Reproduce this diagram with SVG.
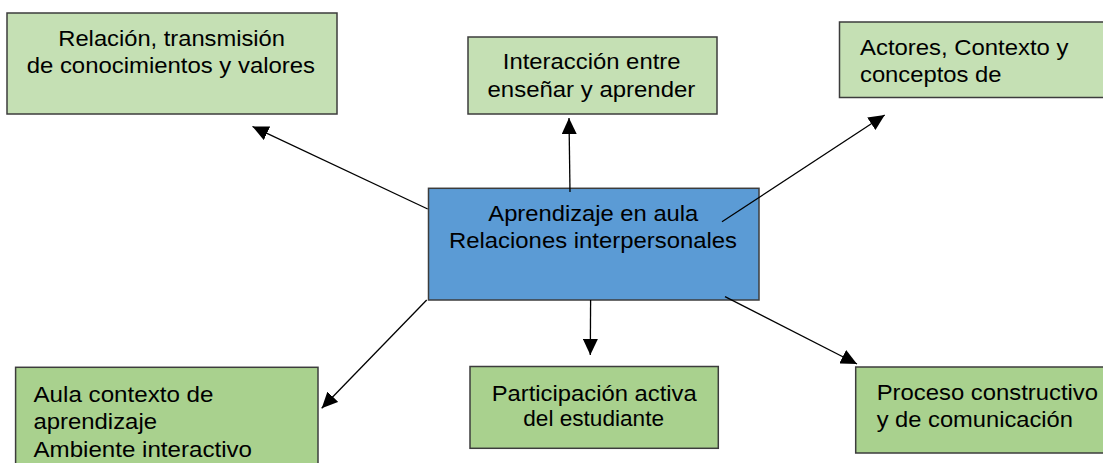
<svg xmlns="http://www.w3.org/2000/svg" width="1103" height="463" viewBox="0 0 1103 463">
<style>
.box{stroke:#3c3c3c;stroke-width:1.5}
.lt{fill:#c5e0b4}
.dk{fill:#a9d18e}
.ct{fill:#5b9bd5}
text{font-family:"Liberation Sans",Arial,sans-serif;font-size:22px;fill:#000}
.con line{stroke:#000;stroke-width:1.3;marker-end:url(#arr)}
</style>
<defs>
<marker id="arr" markerUnits="userSpaceOnUse" markerWidth="17" markerHeight="15" refX="16" refY="7.5" orient="auto">
<path d="M0,0 L16,7.5 L0,15 z" fill="#000"/>
</marker>
</defs>
<rect width="1103" height="463" fill="#fff"/>
<g id="n-relacion">
<rect class="box lt" x="7" y="13" width="330" height="101"/>
<text x="58.3" y="46" textLength="226.7" lengthAdjust="spacingAndGlyphs">Relación, transmisión</text>
<text x="26.7" y="73" textLength="288.3" lengthAdjust="spacingAndGlyphs">de conocimientos y valores</text>
</g>
<g id="n-interaccion">
<rect class="box lt" x="468" y="37" width="249" height="77"/>
<text x="502.8" y="69.3" textLength="177.7" lengthAdjust="spacingAndGlyphs">Interacción entre</text>
<text x="487.5" y="96.7" textLength="207.8" lengthAdjust="spacingAndGlyphs">enseñar y aprender</text>
</g>
<g id="n-actores">
<rect class="box lt" x="839.5" y="22" width="280" height="75.5"/>
<text x="860" y="55" textLength="208.5" lengthAdjust="spacingAndGlyphs">Actores, Contexto y</text>
<text x="860" y="81.5" textLength="141.5" lengthAdjust="spacingAndGlyphs">conceptos de</text>
</g>
<g id="n-central">
<rect class="box ct" x="428.5" y="188.3" width="330.5" height="111.7"/>
<text x="488.3" y="220.7" textLength="210" lengthAdjust="spacingAndGlyphs">Aprendizaje en aula</text>
<text x="449" y="248.3" textLength="288" lengthAdjust="spacingAndGlyphs">Relaciones interpersonales</text>
</g>
<g id="n-aula">
<rect class="box dk" x="15.6" y="367.3" width="302.4" height="110"/>
<text x="33.5" y="401.7" textLength="180" lengthAdjust="spacingAndGlyphs">Aula contexto de</text>
<text x="33.5" y="429" textLength="123.5" lengthAdjust="spacingAndGlyphs">aprendizaje</text>
<text x="33.5" y="456.7" textLength="218.5" lengthAdjust="spacingAndGlyphs">Ambiente interactivo</text>
</g>
<g id="n-participacion">
<rect class="box dk" x="470" y="366.5" width="248.3" height="81.8"/>
<text x="491.7" y="400.7" textLength="205" lengthAdjust="spacingAndGlyphs">Participación activa</text>
<text x="523.3" y="426.3" textLength="140.7" lengthAdjust="spacingAndGlyphs">del estudiante</text>
</g>
<g id="n-proceso">
<rect class="box dk" x="855.7" y="367" width="270" height="86"/>
<text x="876.7" y="400" textLength="221.3" lengthAdjust="spacingAndGlyphs">Proceso constructivo</text>
<text x="876.7" y="427" textLength="196.3" lengthAdjust="spacingAndGlyphs">y de comunicación</text>
</g>
<g id="connectors" class="con">
<line x1="427.7" y1="209" x2="252.5" y2="126.5"/>
<line x1="570" y1="192" x2="569" y2="118"/>
<line x1="722" y1="221.7" x2="884.7" y2="115"/>
<line x1="426.7" y1="300" x2="321.7" y2="408.3"/>
<line x1="590.6" y1="300" x2="590.3" y2="355"/>
<line x1="725" y1="296.7" x2="857" y2="364"/>
</g>
</svg>
